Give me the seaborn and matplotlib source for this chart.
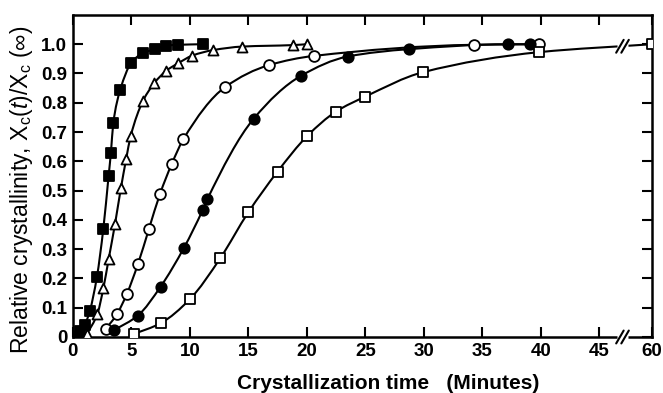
import numpy as np
import pandas as pd
import matplotlib
matplotlib.use("Agg")
import matplotlib.pyplot as plt
import seaborn as sns
from matplotlib.path import Path
from matplotlib.patches import PathPatch

# ---------------- data ----------------
t_filled_sq = [0.2, 0.6, 1.0, 1.45, 2.05, 2.6, 3.05, 3.25, 3.45, 4.05, 5.0, 6.0, 7.0, 8.0, 9.0, 11.1]
y_filled_sq = [0.0, 0.02, 0.04, 0.09, 0.205, 0.37, 0.55, 0.63, 0.73, 0.845, 0.937, 0.97, 0.983, 0.995, 0.998, 1.0]

t_open_tri = [1.2, 2.1, 2.6, 3.05, 3.6, 4.1, 4.55, 4.95, 6.0, 6.95, 8.0, 9.0, 10.2, 12.0, 14.5, 18.8, 20.0]
y_open_tri = [0.01, 0.08, 0.166, 0.265, 0.386, 0.508, 0.607, 0.688, 0.807, 0.867, 0.91, 0.935, 0.961, 0.98, 0.992, 0.997, 1.0]

t_open_circ = [2.8, 3.75, 4.6, 5.55, 6.5, 7.45, 8.45, 9.45, 13.0, 16.8, 20.6, 34.3, 39.9]
y_open_circ = [0.027, 0.077, 0.146, 0.248, 0.369, 0.489, 0.591, 0.676, 0.853, 0.929, 0.96, 0.998, 1.0]

t_filled_circ = [3.55, 5.55, 7.5, 9.5, 11.1, 11.5, 15.45, 19.5, 23.5, 28.7, 37.2, 39.1]
y_filled_circ = [0.024, 0.073, 0.172, 0.305, 0.434, 0.471, 0.745, 0.892, 0.958, 0.983, 1.0, 1.0]

t_open_sq = [5.2, 7.5, 10.0, 12.6, 15.0, 17.5, 20.05, 22.5, 25.0, 29.9, 39.9, 60.0]
y_open_sq = [0.01, 0.047, 0.129, 0.269, 0.426, 0.565, 0.687, 0.77, 0.821, 0.904, 0.973, 1.0]

x_ticks = [0, 5, 10, 15, 20, 25, 30, 35, 40, 45, 60]
y_ticks = [0, 0.1, 0.2, 0.3, 0.4, 0.5, 0.6, 0.7, 0.8, 0.9, 1.0]
y_ticklabels = ["0", "0.1", "0.2", "0.3", "0.4", "0.5", "0.6", "0.7", "0.8", "0.9", "1.0"]

# ---------------- style ----------------
sns.set_theme(style="ticks")
plt.rcParams['font.family'] = ['Liberation Sans', 'DejaVu Sans']
plt.rcParams['mathtext.fontset'] = 'custom'
plt.rcParams['mathtext.rm'] = 'Liberation Sans'
plt.rcParams['mathtext.it'] = 'Liberation Sans:italic'


def xpos(t):
    """Broken x axis: linear to 45, compressed beyond (60 -> 49.5)."""
    t = np.asarray(t, float)
    return np.where(t <= 45, t, 45 + (t - 45) * 0.3)


def smooth_path(x, y):
    """Monotone cubic (Fritsch-Carlson) curve through the points as a Bezier path."""
    x = np.asarray(x, float)
    y = np.asarray(y, float)
    h = np.diff(x)
    d = np.diff(y) / h
    n = len(x)
    m = np.zeros(n)
    m[0] = d[0]
    m[-1] = d[-1]
    for k in range(1, n - 1):
        if d[k - 1] * d[k] <= 0:
            m[k] = 0.0
        else:
            w1 = 2 * h[k] + h[k - 1]
            w2 = h[k] + 2 * h[k - 1]
            m[k] = (w1 + w2) / (w1 / d[k - 1] + w2 / d[k])
    verts = [(x[0], y[0])]
    codes = [Path.MOVETO]
    for k in range(n - 1):
        verts += [(x[k] + h[k] / 3, y[k] + m[k] * h[k] / 3),
                  (x[k + 1] - h[k] / 3, y[k + 1] - m[k + 1] * h[k] / 3),
                  (x[k + 1], y[k + 1])]
        codes += [Path.CURVE4] * 3
    return Path(verts, codes)


fig = plt.figure(figsize=(6.63, 3.93), dpi=100)
ax = fig.add_axes([0.110, 0.1425, 0.873, 0.8195])

series = [
    (t_filled_sq, y_filled_sq, 's', 'black', 50),
    (t_open_tri, y_open_tri, '^', 'white', 52),
    (t_open_circ, y_open_circ, 'o', 'white', 60),
    (t_filled_circ, y_filled_circ, 'o', 'black', 56),
    (t_open_sq, y_open_sq, 's', 'white', 50),
]

for t, y, mk, fc, s in series:
    px = xpos(t)
    ax.add_patch(PathPatch(smooth_path(px, y), facecolor='none', edgecolor='black',
                           lw=1.5, zorder=2))
    df = pd.DataFrame({'x': px, 'y': y})
    sns.scatterplot(data=df, x='x', y='y', marker=mk, s=s, color=fc,
                    edgecolor='black', linewidth=1.3, ax=ax, zorder=3, legend=False)

ax.set_xlim(0, 49.5)
ax.set_ylim(0, 1.1)
ax.set_xticks(xpos(x_ticks))
ax.set_xticklabels([str(v) for v in x_ticks])
ax.set_yticks(y_ticks)
ax.set_yticklabels(y_ticklabels)
ax.tick_params(direction='in', length=7, width=1.5, top=True, right=True,
               labelsize=13.5, pad=4, colors='black')
for lab in ax.get_xticklabels() + ax.get_yticklabels():
    lab.set_fontweight('bold')
for sp in ax.spines.values():
    sp.set_linewidth(1.8)
    sp.set_color('black')

ax.set_ylabel("Relative crystallinity, X$_\\mathrm{c}$($\\it{t}$)/X$_\\mathrm{c}$ (\u221e)",
              fontsize=16.5, color='black')
ax.yaxis.set_label_coords(-0.066, 0.456)
ax.set_xlabel("Crystallization time   (Minutes)", fontsize=15, fontweight='bold',
              color='black')
ax.xaxis.set_label_coords(0.545, -0.115)

# ---------------- axis-break marks ----------------
bx = 47.0
dxs = 0.32   # half-width of a slash in data units
dys = 0.022  # half-height of a slash in data units


def break_marks(xc, yc):
    ax.plot([xc - 0.45, xc + 0.45], [yc, yc], color='white', lw=3.5,
            clip_on=False, zorder=5, solid_capstyle='butt')
    for off in (-0.22, 0.22):
        ax.plot([xc + off - dxs, xc + off + dxs], [yc - dys, yc + dys], color='black',
                lw=1.5, clip_on=False, zorder=6)

# on the x axis
break_marks(bx, 0.0)
# on the data line that crosses the break
px_last = xpos(t_open_sq)
y_on_line = np.interp(bx, px_last[-2:], y_open_sq[-2:])
break_marks(bx, y_on_line)

fig.savefig("out.png", dpi=100)
